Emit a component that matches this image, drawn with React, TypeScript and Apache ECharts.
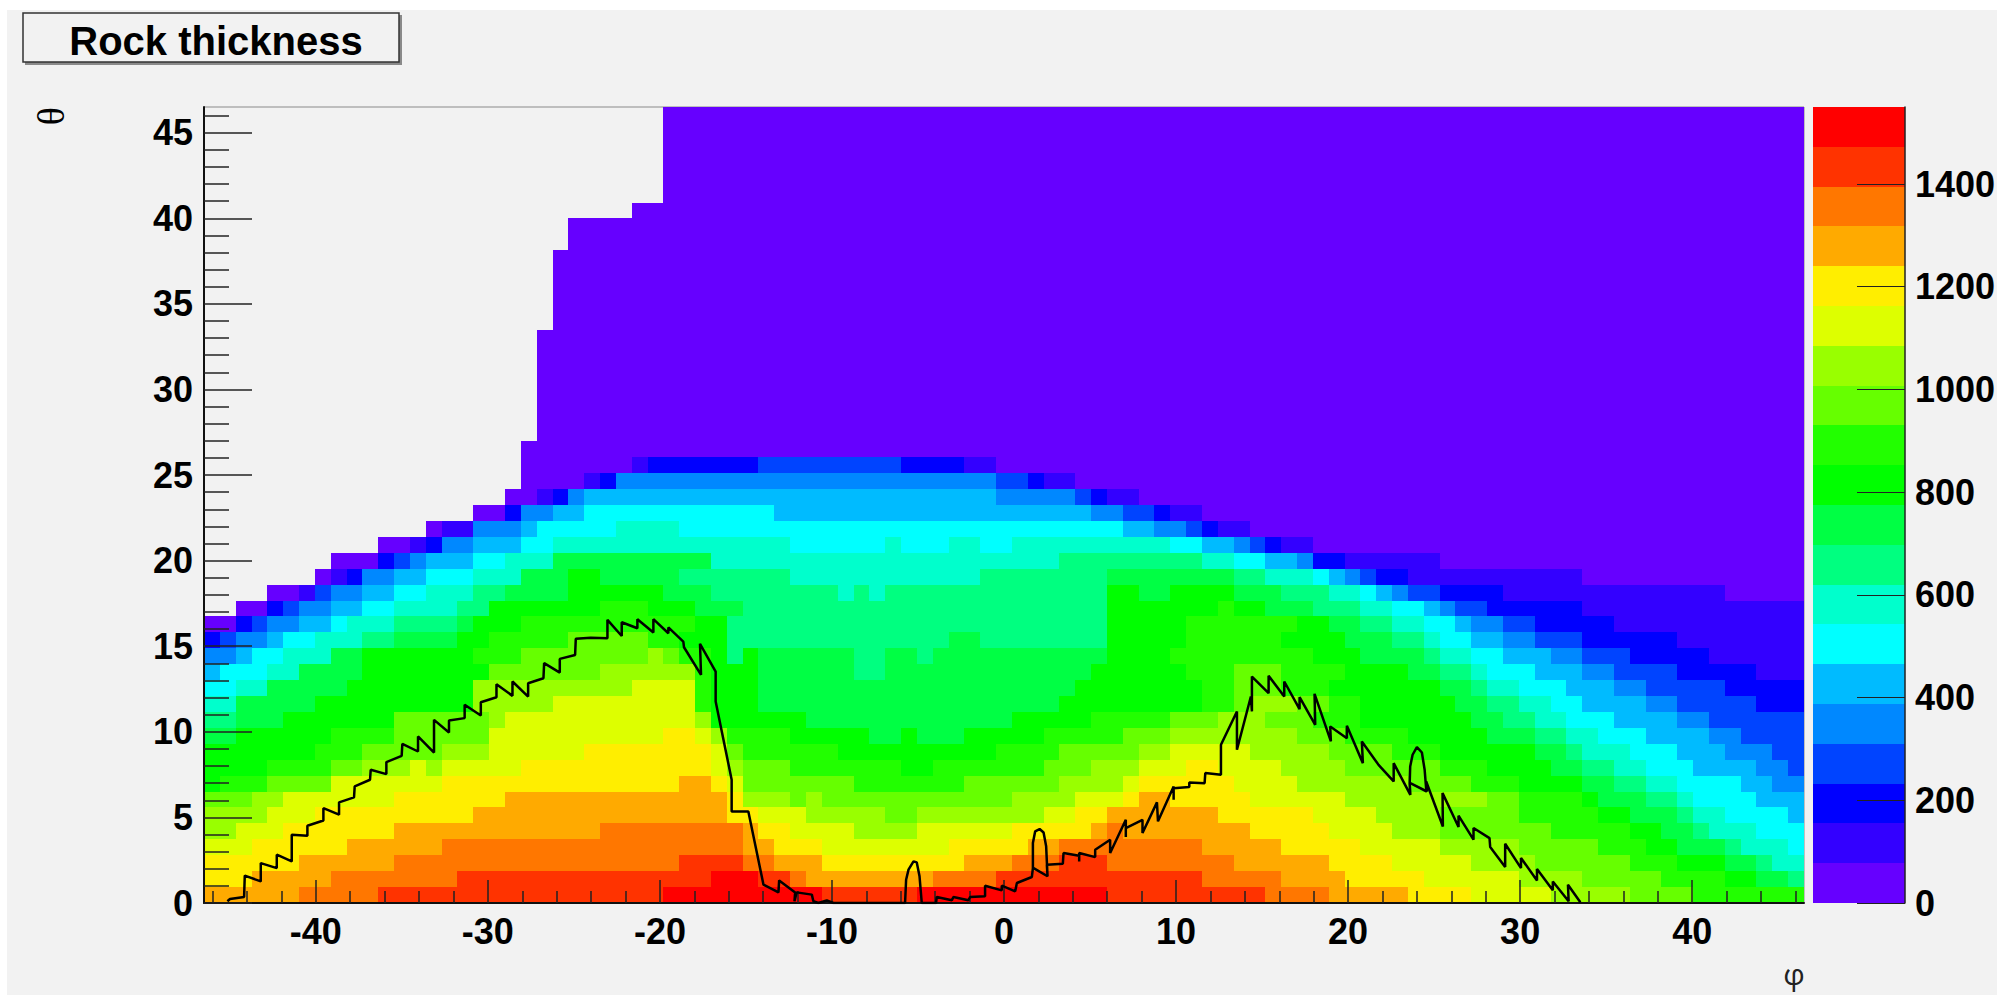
import React, { useEffect, useRef } from "react";
import * as echarts from "echarts";

// Axis ranges and histogram binning
const phiRange = [-46.5, 46.5];
const thetaRange = [0, 46.5];
const phiBins = 101;
const thetaBins = 50;
const zMax = 1550;

const phiMajorTicks = [-40, -30, -20, -10, 0, 10, 20, 30, 40];
const phiMinorTicks = [-46, -44, -42, -38, -36, -34, -32, -28, -26, -24, -22, -18, -16, -14, -12, -8, -6, -4, -2, 2, 4, 6, 8, 12, 14, 16, 18, 22, 24, 26, 28, 32, 34, 36, 38, 42, 44, 46];
const thetaMajorTicks = [0, 5, 10, 15, 20, 25, 30, 35, 40, 45];
const thetaMinorTicks = [1, 2, 3, 4, 6, 7, 8, 9, 11, 12, 13, 14, 16, 17, 18, 19, 21, 22, 23, 24, 26, 27, 28, 29, 31, 32, 33, 34, 36, 37, 38, 39, 41, 42, 43, 44, 46];
const zTicks = [0, 200, 400, 600, 800, 1000, 1200, 1400];

// 20 colour levels, from the colour bar, lowest first
const levelColors = [
  "#6600ff", "#3300ff", "#0000ff", "#0044ff", "#0088ff", "#00bbff", "#00ffff", "#00ffcc", "#00ff80", "#00ff44",
  "#00ff00", "#22ff00", "#66ff00", "#99ff00", "#ddff00", "#ffee00", "#ffaa00", "#ff7700", "#ff3300", "#ff0000",
];
const levelLetters = "abcdefghijklmnopqrst";

// Per theta bin (lowest first): runs of colour levels along phi, letter = level, number = bins, _ = empty
const thicknessRuns = [
  "q6 r5 s18 t10 s6 t12 s10 r4 q5 p4 o5 n5 m4 l7",
  "p3 q5 r8 s16 t3 s2 r1 q8 r4 s13 r5 q4 p5 o6 n4 m5 l4 k2 j2 i1",
  "p6 q6 r18 s4 r2 q3 p9 q3 r3 s3 r8 q6 p4 o5 n4 m6 l3 k3 j2 i1 h2",
  "o3 p6 q6 r19 q2 p3 o8 p5 q2 r9 q5 p5 o5 n5 m5 l3 k2 j3 i1 h3 g1",
  "n2 o3 p7 q13 r9 q1 p2 o4 n4 o6 p5 q1 r1 q8 p5 o4 n3 m7 l5 k2 j2 i1 h3 g3",
  "n4 o3 p10 q16 p2 o3 n5 m2 n8 o2 p2 q7 p6 o4 n4 m5 l5 k2 j3 i1 h2 g4 f1",
  "m3 n2 o7 p7 q14 p1 n3 m1 n1 m12 n4 o3 p1 q2 p5 o6 n9 m2 l4 k1 j3 i2 h1 g4 f3",
  "k1 l3 m4 o7 p15 q2 p1 o1 m7 l7 m6 n4 o1 p6 o4 n7 m4 l3 k4 j2 i2 h2 g4 f2 e2",
  "k4 l4 m2 n3 o1 n1 o5 p12 o1 n1 m3 l7 k2 l7 m3 n3 o3 p2 o4 n4 m6 l3 k4 j2 i2 h2 g3 f4 e2 d1",
  "k7 l3 m5 n3 o6 p8 o1 m1 l6 k10 l4 m5 n2 o5 n5 m4 l3 k6 j2 i1 h3 g3 f3 e3 d2",
  "j2 k6 l4 m6 o11 p2 o1 n1 l4 k5 j2 k1 j3 k5 l5 m3 n8 m3 l4 k5 j3 i2 h2 g3 f4 e2 d4",
  "i2 j3 k7 m6 n1 o12 n1 k6 j13 k5 l5 m3 n3 m3 l3 k7 j2 i2 h2 g3 f4 e2 d6",
  "h2 j5 k10 n5 o9 l1 k3 j19 k9 l2 m1 n3 m2 l2 k6 j2 i2 h2 g2 f4 e2 d5 c3",
  "g2 h2 j5 k8 n10 o4 l1 k3 j20 k8 l2 m3 l3 k7 j2 i1 h2 g3 f3 e2 d5 c5",
  "f1 g3 h2 j4 k8 m7 n6 l1 k3 j6 i2 j13 k6 l3 m3 l4 k4 j2 i2 h1 g3 f3 e2 d4 c5 b3",
  "e2 f1 g2 h3 j2 k7 l3 m8 n1 m1 l2 k1 i1 k1 j6 i2 j2 i1 j11 k4 l9 k3 j4 i1 h2 g2 f3 e2 d3 c5 b6",
  "c1 d1 e2 f1 g2 h3 i2 j4 k2 l5 m5 l2 k3 i6 i8 j2 i8 k5 l6 k4 j3 i2 h1 g2 f2 e2 d3 c6 b8",
  "a2 c1 d1 e2 f2 g1 h3 i4 j1 k3 l11 k2 i24 k5 l7 k2 j2 i2 h2 g2 f1 e2 d2 c5 b12",
  "_2 a2 c1 d1 e2 f2 g2 h4 i2 k7 l3 k3 j3 i23 k7 l1 k2 j3 i3 h2 g2 f1 e1 d2 c6 b14",
  "_4 a2 b1 d1 e2 f2 g2 h3 i2 j4 k6 j3 i8 h1 i1 h1 i14 k2 j2 k4 j3 i3 h2 g1 f1 e1 d2 c4 b14 a5",
  "_7 a1 b1 c1 e2 f2 g3 h3 j3 k2 j5 i7 h12 i8 j8 i2 h3 g1 f1 e1 d1 c2 b11 a14",
  "_8 a3 c1 d1 e1 f3 g2 h3 j10 h22 i9 h2 g2 f2 e1 c2 b6 a23",
  "_11 a2 b1 c1 e2 f3 g2 h15 g6 h1 g3 h2 g2 h10 g2 f2 e1 d1 c1 b2 a31",
  "_14 a1 b2 e3 f1 g5 h4 g28 f2 e2 d1 c1 b2 a35",
  "_17 a2 c1 e2 f2 g12 f20 e2 d2 c1 b2 a38",
  "_19 a2 b1 c1 e1 f26 e5 d1 c1 b2 a42",
  "_20 a4 b1 c1 e24 d2 c1 b2 a46",
  "_20 a7 b1 c7 d9 c4 b2 a51",
  "_20 a81",
  "_21 a80", "_21 a80", "_21 a80", "_21 a80", "_21 a80", "_21 a80", "_21 a80",
  "_22 a79", "_22 a79", "_22 a79", "_22 a79", "_22 a79",
  "_23 a78", "_23 a78",
  "_27 a74",
  "_29 a72", "_29 a72", "_29 a72", "_29 a72", "_29 a72", "_29 a72",
];

// Overlaid black profile, in axis units
const profilePhi = [
  -45.14, -44.99, -44.17, -44.13, -43.2, -43.2, -42.27, -42.27, -41.4, -41.4, -40.49, -40.49, -39.56, -39.56, -38.65, -38.65,
  -37.78, -37.74, -36.85, -36.81, -35.9, -35.9, -35.01, -34.97, -34.06, -34.06, -33.13, -33.13, -32.26, -32.26, -31.35, -31.35,
  -30.41, -30.41, -29.5, -29.5, -28.57, -28.57, -27.66, -27.66, -26.77, -26.73, -25.82, -25.82, -24.93, -24.89, -24.02, -23.05,
  -23.05, -22.22, -22.22, -21.31, -21.31, -20.38, -20.38, -19.51, -19.51, -18.64, -18.6, -17.61, -17.67, -16.76, -16.76, -15.83,
  -15.83, -14.86, -13.98, -13.11, -13.07, -12.14, -12.18, -12.05, -11.17, -11.08, -10.79, -10.3, -9.91, -5.75, -5.69, -5.55,
  -5.26, -5.07, -4.91, -4.78, -3.95, -3.91, -3.03, -2.94, -2.07, -1.97, -1.1, -1.1, -0.13, -0.13, 0.65, 0.75,
  1.62, 1.68, 1.68, 1.81, 2.07, 2.3, 2.45, 2.53, 1.72, 2.53, 2.49, 3.42, 3.46, 4.37, 4.37, 4.37,
  5.3, 5.3, 6.17, 6.17, 7.08, 7.08, 7.08, 8.05, 8.05, 8.89, 8.95, 9.86, 9.86, 9.86, 10.77, 10.77,
  11.66, 11.7, 12.61, 12.61, 13.54, 13.54, 14.35, 14.41, 14.41, 15.38, 15.38, 16.29, 16.29, 17.18, 17.18, 18.09,
  18.05, 19, 18.96, 19.93, 19.93, 20.86, 20.8, 21.77, 22.65, 22.65, 23.62, 23.58, 23.61, 23.75, 24, 24.29,
  24.45, 24.55, 23.62, 24.58, 24.54, 25.51, 25.49, 26.42, 26.42, 27.29, 27.29, 28.22, 28.26, 29.13, 29.13, 30.05,
  30.05, 30.98, 30.98, 31.9, 31.9, 32.82, 32.78, 33.5,
];
const profileTheta = [
  0.1, 0.23, 0.35, 1.6, 1.26, 2.33, 2.04, 2.82, 2.43, 3.99, 3.93, 4.51, 4.82, 5.54, 5.16, 5.88,
  6.17, 6.81, 7.2, 7.78, 7.53, 8.23, 8.6, 9.3, 8.85, 9.73, 8.79, 10.7, 9.96, 10.66, 10.8, 11.58,
  10.95, 11.73, 12.02, 12.78, 12.1, 12.94, 12.06, 12.84, 13.13, 14.01, 13.46, 14.26, 14.49, 15.43, 15.5, 15.47,
  16.54, 15.6, 16.4, 16.05, 16.58, 15.8, 16.58, 15.76, 16.1, 15.27, 14.94, 13.33, 15.14, 13.52, 11.77, 7.2,
  5.35, 5.35, 1.07, 0.62, 1.32, 0.62, 0.1, 0.62, 0.49, 0.1, 0, 0.15, 0, 0, 1.36, 1.95,
  2.43, 2.37, 1.56, 0, 0, 0.35, 0.16, 0.35, 0.16, 0.35, 0.39, 1.01, 0.74, 1.01, 0.68, 1.17,
  1.52, 2.04, 3.5, 4.18, 4.32, 4.12, 3.31, 1.56, 2.04, 1.56, 2.24, 2.3, 2.92, 2.76, 2.43, 2.92,
  2.68, 3.11, 3.7, 2.92, 4.86, 3.85, 4.38, 4.86, 4.09, 5.88, 4.77, 6.81, 6.03, 6.71, 6.77, 7.04,
  7.0, 7.59, 7.49, 9.24, 11.19, 8.95, 12.06, 11.19, 13.23, 12.26, 13.27, 12.06, 12.94, 11.32, 12.02, 10.41,
  12.22, 9.44, 10.31, 9.63, 10.35, 8.17, 9.44, 8.07, 7.1, 8.17, 6.32, 7.0, 7.98, 8.66, 9.11, 8.79,
  7.78, 6.52, 7.0, 6.52, 7.1, 4.47, 6.42, 4.44, 5.1, 3.7, 4.38, 3.79, 3.27, 2.1, 3.46, 2.04,
  2.63, 1.32, 1.98, 0.74, 1.26, 0.1, 1.07, 0.04,
];

const zStep = zMax / levelColors.length;
const phiStep = (phiRange[1] - phiRange[0]) / phiBins;
const thetaStep = (thetaRange[1] - thetaRange[0]) / thetaBins;

function buildCells(): number[][] {
  const cells: number[][] = [];
  thicknessRuns.forEach((row, r) => {
    let col = 0;
    row.split(" ").forEach((run) => {
      const count = Number(run.slice(1));
      if (run[0] !== "_") {
        const level = levelLetters.indexOf(run[0]);
        cells.push([
          phiRange[0] + col * phiStep,
          phiRange[0] + (col + count) * phiStep,
          thetaRange[0] + r * thetaStep,
          thetaRange[0] + (r + 1) * thetaStep,
          (level + 0.5) * zStep,
        ]);
      }
      col += count;
    });
  });
  return cells;
}

const renderCell = (_params: any, api: any) => {
  const a = api.coord([api.value(0), api.value(2)]);
  const b = api.coord([api.value(1), api.value(3)]);
  const x0 = Math.round(a[0]);
  const x1 = Math.round(b[0]);
  const y0 = Math.round(a[1]);
  const y1 = Math.round(b[1]);
  const level = Math.min(levelColors.length - 1, Math.floor(api.value(4) / zStep));
  return {
    type: "rect",
    shape: { x: x0, y: y1, width: x1 - x0, height: y0 - y1 },
    style: { fill: levelColors[level], stroke: null },
  };
};

const labelStyle = { fontFamily: "Liberation Sans", fontWeight: "bold" as const, fontSize: 36, color: "#000" };
const tickColor = "#222";
const plainNumber = (v: number) => String(v);

export default function App() {
  const ref = useRef<HTMLDivElement>(null);
  useEffect(() => {
    const chart = echarts.init(ref.current!, undefined, { renderer: "svg" });
    const barData = levelColors.map((_, i) => [0, 1, i * zStep, (i + 1) * zStep, (i + 0.5) * zStep]);
    chart.setOption({
      animation: false,
      backgroundColor: "#fff",
      title: {
        text: "Rock thickness",
        left: 211,
        top: 16,
        textAlign: "center",
        textStyle: { fontFamily: "Liberation Sans", fontWeight: "bold", fontSize: 40, color: "#000" },
      },
      graphic: [
        { type: "rect", z: -10, shape: { x: 7, y: 10, width: 1990, height: 985 }, style: { fill: "#f2f2f2" } },
        { type: "rect", z: 1, shape: { x: 25, y: 15, width: 377, height: 50 }, style: { fill: "#8a8a8a" } },
        { type: "rect", z: 1, shape: { x: 23, y: 13, width: 376, height: 49 }, style: { fill: "#f2f2f2", stroke: "#333", lineWidth: 1.5 } },
        {
          type: "text", x: 50, y: 116, rotation: -Math.PI / 2,
          style: { text: "θ", font: "38px 'Liberation Serif'", fill: "#000", textAlign: "center", textVerticalAlign: "middle" },
        },
        {
          type: "text", x: 1794, y: 973,
          style: { text: "φ", font: "30px 'Open Sans'", fill: "#222", textAlign: "center", textVerticalAlign: "middle" },
        },
      ],
      grid: [
        { left: 204, top: 107, width: 1600, height: 796, show: true, borderColor: "#8a8a8a", borderWidth: 1, backgroundColor: "transparent" },
        { left: 1813, top: 107, width: 92, height: 796 },
      ],
      xAxis: [
        {
          type: "value", gridIndex: 0, position: "bottom", min: phiRange[0], max: phiRange[1], z: 5,
          splitLine: { show: false },
          axisLine: { show: true, onZero: false, lineStyle: { color: "#111", width: 2 } },
          axisTick: { show: true, inside: true, length: 23, customValues: phiMajorTicks, lineStyle: { color: tickColor, width: 1.5 } },
          axisLabel: { show: true, customValues: phiMajorTicks, margin: 10, formatter: plainNumber, ...labelStyle },
        },
        {
          type: "value", gridIndex: 0, position: "bottom", min: phiRange[0], max: phiRange[1], z: 5,
          splitLine: { show: false },
          axisLine: { show: false, onZero: false },
          axisTick: { show: true, inside: true, length: 12, customValues: phiMinorTicks, lineStyle: { color: tickColor, width: 1.5 } },
          axisLabel: { show: false },
        },
        {
          type: "value", gridIndex: 1, min: 0, max: 1,
          splitLine: { show: false }, axisLine: { show: false, onZero: false }, axisTick: { show: false }, axisLabel: { show: false },
        },
      ],
      yAxis: [
        {
          type: "value", gridIndex: 0, position: "left", min: thetaRange[0], max: thetaRange[1], z: 5,
          splitLine: { show: false },
          axisLine: { show: true, onZero: false, lineStyle: { color: "#111", width: 2 } },
          axisTick: { show: true, inside: true, length: 48, customValues: thetaMajorTicks, lineStyle: { color: tickColor, width: 1.5 } },
          axisLabel: { show: true, customValues: thetaMajorTicks, margin: 11, padding: [4, 0, 0, 0], formatter: plainNumber, ...labelStyle },
        },
        {
          type: "value", gridIndex: 0, position: "left", min: thetaRange[0], max: thetaRange[1], z: 5,
          splitLine: { show: false },
          axisLine: { show: false, onZero: false },
          axisTick: { show: true, inside: true, length: 25, customValues: thetaMinorTicks, lineStyle: { color: tickColor, width: 1.5 } },
          axisLabel: { show: false },
        },
        {
          type: "value", gridIndex: 1, position: "right", min: 0, max: zMax, z: 5,
          splitLine: { show: false },
          axisLine: { show: true, onZero: false, lineStyle: { color: "#222", width: 1.5 } },
          axisTick: { show: true, inside: true, length: 48, customValues: zTicks, lineStyle: { color: "#222", width: 1 } },
          axisLabel: { show: true, customValues: zTicks, margin: 10, formatter: plainNumber, ...labelStyle },
        },
      ],
      series: [
        {
          type: "custom", name: "Rock thickness", xAxisIndex: 0, yAxisIndex: 0, z: 2, silent: true,
          coordinateSystem: "cartesian2d", renderItem: renderCell,
          encode: { x: [0, 1], y: [2, 3] }, data: buildCells(),
        },
        {
          type: "custom", name: "Colour scale", xAxisIndex: 2, yAxisIndex: 2, z: 2, silent: true,
          coordinateSystem: "cartesian2d", renderItem: renderCell,
          encode: { x: [0, 1], y: [2, 3] }, data: barData,
        },
        {
          type: "line", name: "Profile", xAxisIndex: 0, yAxisIndex: 0, z: 10, silent: true,
          showSymbol: false, symbol: "none", clip: true,
          lineStyle: { color: "#000", width: 2.5 },
          data: profilePhi.map((p, i) => [p, profileTheta[i]]),
        },
      ],
    });
    return () => chart.dispose();
  }, []);
  return <div ref={ref} style={{ position: "absolute", left: 0, top: 0, width: 2011, height: 995 }} />;
}
